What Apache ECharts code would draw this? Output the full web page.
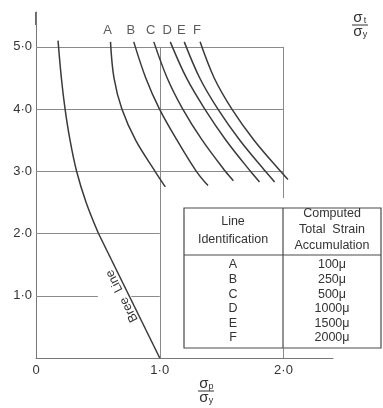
<!DOCTYPE html>
<html>
<head>
<meta charset="utf-8">
<script src="https://cdn.jsdelivr.net/npm/echarts@6/dist/echarts.min.js"></script>
<style>
    html, body { margin: 0; padding: 0; background: #fff; }
    #chart { width: 383px; height: 408px; }
</style>
</head>
<body>
<div id="chart"></div>
<script>
// Bree diagram, lines of constant total strain
const breeLine = [[0.178, 5.1], [0.205, 4.5], [0.235, 4.0], [0.275, 3.5], [0.328, 3.0], [0.405, 2.5], [0.505, 2.0], [1.0, 0]];
const lineA = [[0.602, 5.08], [0.63, 4.5], [0.694, 4.0], [0.805, 3.5], [0.962, 3.0], [1.045, 2.75]];
const lineB = [[0.79, 5.08], [0.887, 4.5], [0.998, 4.0], [1.14, 3.5], [1.296, 3.0], [1.39, 2.77]];
const lineC = [[0.952, 5.08], [1.06, 4.5], [1.186, 4.0], [1.343, 3.5], [1.53, 3.0], [1.595, 2.85]];
const lineD = [[1.085, 5.08], [1.216, 4.5], [1.364, 4.0], [1.535, 3.5], [1.733, 3.0], [1.806, 2.83]];
const lineE = [[1.198, 5.08], [1.323, 4.5], [1.47, 4.0], [1.647, 3.5], [1.854, 3.0], [1.928, 2.83]];
const lineF = [[1.326, 5.08], [1.44, 4.5], [1.583, 4.0], [1.762, 3.5], [1.976, 3.0], [2.036, 2.87]];
const lineNames = ['A', 'B', 'C', 'D', 'E', 'F'];
const strainValues = ['100\u03bc', '250\u03bc', '500\u03bc', '1000\u03bc', '1500\u03bc', '2000\u03bc'];
const xTickLabels = ['0', '1\u00b70', '2\u00b70'];
const yTickLabels = ['', '1\u00b70', '2\u00b70', '3\u00b70', '4\u00b70', '5\u00b70'];
// partial grid lines of the original drawing
const refLines = [
    [[0, 5], [2, 5]], [[0, 4], [2, 4]], [[0, 3], [2, 3]],
    [[0, 2], [1, 2]], [[0, 1], [0.5, 1]], [[0.77, 1], [1, 1]],
    [[1, 0], [1, 5]], [[2, 2.57], [2, 5]], [[2, 0], [2, 0.16]]
];

const FONT = 'Liberation Sans';
const INK = '#3a3a3a';
const strainLines = [lineA, lineB, lineC, lineD, lineE, lineF];

const chart = echarts.init(document.getElementById('chart'));

function tableGraphic() {
    const els = [
        { type: 'rect', shape: { x: 184, y: 208, width: 197, height: 140 }, style: { fill: '#fff', stroke: '#4a4a4a', lineWidth: 1.2 } },
        { type: 'line', shape: { x1: 184, y1: 255, x2: 381, y2: 255 }, style: { stroke: '#4a4a4a', lineWidth: 1.2 } },
        { type: 'line', shape: { x1: 283, y1: 208, x2: 283, y2: 348 }, style: { stroke: '#4a4a4a', lineWidth: 1.2 } }
    ];
    const head = [['Line', 233, 222], ['Identification', 233, 240], ['Computed', 332, 214], ['Total  Strain', 332, 230], ['Accumulation', 332, 246]];
    head.forEach(h => els.push({
        type: 'text', x: h[1], y: h[2],
        style: { text: h[0], font: '12.5px ' + FONT, fill: '#333', align: 'center', verticalAlign: 'middle' }
    }));
    lineNames.forEach((n, i) => {
        const y = 265 + i * 14.6;
        els.push({ type: 'text', x: 233, y: y, style: { text: n, font: '12.5px ' + FONT, fill: '#333', align: 'center', verticalAlign: 'middle' } });
        els.push({ type: 'text', x: 332, y: y, style: { text: strainValues[i], font: '12.5px ' + FONT, fill: '#333', align: 'center', verticalAlign: 'middle' } });
    });
    return { type: 'group', z: 100, children: els };
}

function fraction(cx, cy, sub) {
    return {
        type: 'group', x: cx, y: cy, z: 100,
        children: [
            { type: 'text', x: -2, y: -7, style: { text: '\u03c3', font: '15px ' + FONT, fill: '#333', align: 'center', verticalAlign: 'middle' } },
            { type: 'text', x: 5, y: -4, style: { text: sub, font: '9px ' + FONT, fill: '#333', align: 'center', verticalAlign: 'middle' } },
            { type: 'line', shape: { x1: -8, y1: 0, x2: 8, y2: 0 }, style: { stroke: '#333', lineWidth: 1 } },
            { type: 'text', x: -2, y: 7, style: { text: '\u03c3', font: '15px ' + FONT, fill: '#333', align: 'center', verticalAlign: 'middle' } },
            { type: 'text', x: 5, y: 10, style: { text: 'y', font: '9px ' + FONT, fill: '#333', align: 'center', verticalAlign: 'middle' } }
        ]
    };
}

const option = {
    animation: false,
    grid: { left: 36, right: 50, top: 12, bottom: 50, containLabel: false },
    xAxis: {
        type: 'value', min: 0, max: 2.4, interval: 1,
        axisLine: { lineStyle: { color: '#777', width: 1 } },
        axisTick: { show: false },
        splitLine: { show: false },
        axisLabel: {
            margin: 6, color: '#333', fontFamily: FONT, fontSize: 13,
            formatter: v => (Number.isInteger(v) ? xTickLabels[v] : '')
        }
    },
    yAxis: {
        type: 'value', min: 0, max: 5.56, interval: 1,
        axisLine: { show: true, lineStyle: { color: '#777', width: 1 } },
        axisTick: { show: false },
        splitLine: { show: false },
        axisLabel: {
            margin: 4, color: '#333', fontFamily: FONT, fontSize: 13,
            formatter: v => (Number.isInteger(v) ? yTickLabels[v] : '')
        }
    },
    series: [
        {
            type: 'lines', coordinateSystem: 'cartesian2d', silent: true,
            lineStyle: { color: '#8a8a8a', width: 1, opacity: 1 },
            data: refLines.map(c => ({ coords: c }))
        },
        {
            type: 'line', data: breeLine.slice(0, -1), smooth: 0.35, symbol: 'none',
            lineStyle: { color: INK, width: 1.5 }
        },
        {
            type: 'line', data: breeLine.slice(-2), symbol: 'none',
            lineStyle: { color: INK, width: 1.5 }
        },
        ...strainLines.map(pts => ({
            type: 'line', data: pts, smooth: 0.35, symbol: 'none',
            lineStyle: { color: INK, width: 1.5 }
        })),
        {
            type: 'scatter', symbolSize: 2,
            itemStyle: { color: 'rgba(0,0,0,0)' },
            label: {
                show: true, position: 'top', distance: 4, offset: [-3, 0],
                formatter: '{b}', color: '#333', fontFamily: FONT, fontSize: 13
            },
            data: lineNames.map((n, i) => ({ name: n, value: strainLines[i][0] }))
        }
    ],
    graphic: [
        tableGraphic(),
        fraction(360, 25, 't'),
        fraction(206, 391, 'p'),
        {
            type: 'text', x: 122, y: 296, rotation: 117 * Math.PI / 180, z: 100,
            style: { text: 'Bree  Line', font: '12.5px ' + FONT, fill: '#333', align: 'center', verticalAlign: 'middle' }
        },
        // heavier stub at the top of the y axis
        { type: 'line', shape: { x1: 36, y1: 12, x2: 36, y2: 25 }, style: { stroke: '#444', lineWidth: 1.6 } }
    ]
};
chart.setOption(option);
</script>
</body>
</html>
